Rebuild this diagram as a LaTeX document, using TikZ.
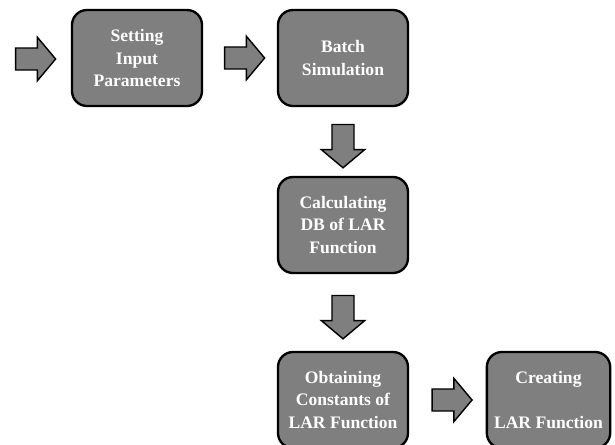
\documentclass[tikz,border=0pt]{standalone}
\usepackage{fontspec}
\setmainfont{Liberation Serif}
\usetikzlibrary{shapes.arrows,calc}
\definecolor{boxgray}{HTML}{7F7F7F}
\begin{document}
\begin{tikzpicture}[x=0.03cm, y=-0.03cm,
  box/.style={draw=black, line width=2pt, fill=boxgray, rounded corners=0.45cm,
    minimum width=3.9cm, minimum height=2.88cm, align=center, text=white,
    font=\fontsize{15}{19}\selectfont\bfseries},
  blockarrow/.style={single arrow, draw=black, line width=1.2pt, fill=boxgray,
    inner xsep=0pt, inner ysep=0.31cm, minimum height=1.2cm,
    single arrow head extend=0.32cm, single arrow tip angle=100}]
  \useasboundingbox (0,0) rectangle (615,444);
  \begin{scope}
  \clip (0,0) rectangle (615,444);
  % process boxes
  \node[box] (setp) at (137,58) {Setting\\Input\\Parameters};
  \node[box] (batch) at (343,58) {Batch\\Simulation};
  \node[box] (calc) at (343,225) {Calculating\\DB of LAR\\Function};
  \node[box] (obtain) at (343,400) {Obtaining\\Constants of\\LAR Function};
  \node[box, minimum width=3.7cm] (create) at (548.5,400) {Creating\\ \\LAR Function};
  \end{scope}
  % block arrows
  \node[blockarrow] (in) at (31,59) {};
  \node[blockarrow] (a1) at ($(setp.east)!0.5!(batch.west)$) {};
  \node[blockarrow, rotate=-90, minimum height=1.3cm] (a2) at ($(batch.south)!0.5!(calc.north)$) {};
  \node[blockarrow, rotate=-90, minimum height=1.3cm] (a3) at ($(calc.south)!0.5!(obtain.north)$) {};
  \node[blockarrow] (a4) at ($(obtain.east)!0.5!(create.west)$) {};
\end{tikzpicture}
\end{document}
